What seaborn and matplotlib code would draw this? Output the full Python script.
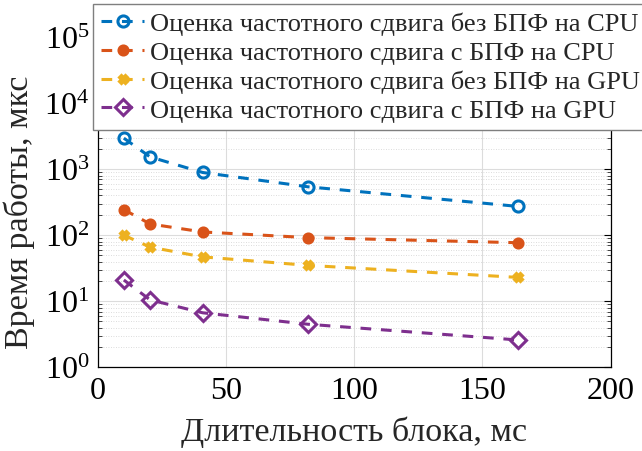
import numpy as np
import pandas as pd
import matplotlib
matplotlib.use("Agg")
import matplotlib.pyplot as plt
import seaborn as sns

# Data
block_ms = [10.24, 20.48, 40.96, 81.92, 163.84]
cpu_no_fft = [2940, 1530, 890, 541, 273]
cpu_fft = [244, 148, 112, 92, 77]
gpu_no_fft = [100, 66, 47, 35, 23]
gpu_fft = [21, 10.5, 6.7, 4.5, 2.6]
labels = [
    "Оценка частотного сдвига без БПФ на CPU",
    "Оценка частотного сдвига с БПФ на CPU",
    "Оценка частотного сдвига без БПФ на GPU",
    "Оценка частотного сдвига с БПФ на GPU",
]
colors = ["#0072BD", "#D95319", "#EDB120", "#7E2F8E"]
x_ticks = [0, 50, 100, 150, 200]
xlabel = "Длительность блока, мс"
ylabel = "Время работы, мкс"

sns.set_theme(style="white")
plt.rcParams["font.family"] = ["Liberation Serif", "DejaVu Serif"]
plt.rcParams["mathtext.fontset"] = "custom"
plt.rcParams["mathtext.rm"] = "Liberation Serif"
plt.rcParams["mathtext.it"] = "Liberation Serif:italic"

fig = plt.figure(figsize=(6.42, 4.52), dpi=100)
ax = fig.add_axes([0.152, 0.185, 0.799, 0.731])

series = [cpu_no_fft, cpu_fft, gpu_no_fft, gpu_fft]
styles = [
    dict(marker="o", markersize=8, markerfacecolor="none"),
    dict(marker="o", markersize=6.5),
    dict(marker="X", markersize=6),
    dict(marker="D", markersize=8, markerfacecolor="none"),
]
for vals, lab, col, st in zip(series, labels, colors, styles):
    df = pd.DataFrame({"x": block_ms, "y": vals})
    sns.lineplot(data=df, x="x", y="y", ax=ax, color=col, label=lab,
                 linewidth=2.2, markeredgewidth=2.2, markeredgecolor=col,
                 dashes=False, **st)
for line in ax.get_lines():
    line.set_linestyle((0, (3.5, 3.2)))

ax.set_yscale("log")
ax.set_ylim(1, 1e5)
ax.set_xlim(0, 200)
ax.set_xticks(x_ticks)
ax.set_xticklabels([str(t) for t in x_ticks])
ax.set_yticks([1, 10, 100, 1e3, 1e4, 1e5])
ax.set_yticklabels([r"$10^{%d}$" % k for k in range(6)])
ax.tick_params(axis="both", which="major", direction="in", length=5,
               labelsize=23, top=True, right=True, width=0.8, colors="black", pad=6)
ax.tick_params(axis="y", which="minor", direction="in", length=3, right=True, left=True, width=0.6)
ax.yaxis.set_minor_locator(matplotlib.ticker.LogLocator(base=10, subs=np.arange(2, 10), numticks=20))
ax.yaxis.set_minor_formatter(matplotlib.ticker.NullFormatter())
ax.grid(True, which="major", color="#dcdcdc", linewidth=0.8)
ax.grid(True, which="minor", axis="y", color="#d0d0d0", linestyle=(0, (1, 2)), linewidth=0.6)
for sp in ax.spines.values():
    sp.set_color("black")
    sp.set_linewidth(0.9)
ax.set_xlabel(xlabel, fontsize=24.5, labelpad=8)
ax.set_ylabel(ylabel, fontsize=24.5)
ax.yaxis.set_label_coords(-0.122, 0.473)

handles, labs = ax.get_legend_handles_labels()
ax.get_legend().remove()
leg = fig.legend(handles, labs, loc="upper left", bbox_to_anchor=(93 / 642, 1 - 5 / 452),
                 fontsize=19.0, frameon=True, fancybox=False, framealpha=1,
                 edgecolor="#7f7f7f", handlelength=1.65, handletextpad=0.2,
                 labelspacing=0.2, borderpad=0.3, borderaxespad=0.0)
leg.get_frame().set_linewidth(1.0)

fig.savefig("out.png", dpi=100)
